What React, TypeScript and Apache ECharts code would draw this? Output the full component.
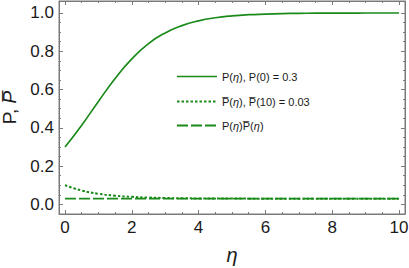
import React, { useEffect, useRef } from "react";
import * as echarts from "echarts";

const etaValues = [0, 0.5, 1, 1.5, 2, 2.5, 3, 3.5, 4, 4.5, 5, 5.5, 6, 6.5, 7, 7.5, 8, 8.5, 9, 9.5, 10];
const pValues = [0.3, 0.414, 0.538, 0.658, 0.76, 0.84, 0.896, 0.934, 0.959, 0.975, 0.985, 0.991, 0.994, 0.9965, 0.998, 0.9988, 0.9993, 0.9996, 0.9997, 0.9998, 0.9999];
const pBarValues = [0.1, 0.0725, 0.0558, 0.0456, 0.0395, 0.0357, 0.0335, 0.0321, 0.0313, 0.0308, 0.0305, 0.0303, 0.0302, 0.0301, 0.0301, 0.03, 0.03, 0.03, 0.03, 0.03, 0.03];
const productValues = [0.03, 0.03, 0.03, 0.03, 0.03, 0.03, 0.03, 0.03, 0.03, 0.03, 0.03, 0.03, 0.03, 0.03, 0.03, 0.03, 0.03, 0.03, 0.03, 0.03, 0.03];
const xMajorTicks = [0, 2, 4, 6, 8, 10];
const xMinorTicks = [0.5, 1, 1.5, 2.5, 3, 3.5, 4.5, 5, 5.5, 6.5, 7, 7.5, 8.5, 9, 9.5];
const yMajorTicks = [0, 0.2, 0.4, 0.6, 0.8, 1.0];
const yMinorTicks = [0.05, 0.1, 0.15, 0.25, 0.3, 0.35, 0.45, 0.5, 0.55, 0.65, 0.7, 0.75, 0.85, 0.9, 0.95];
const seriesNames = ["P(\u03B7), P(0) = 0.3", "P\u0305(\u03B7), P\u0305(10) = 0.03", "P(\u03B7)P\u0305(\u03B7)"];
const legendTexts = [
  "P({i|\u03B7}), P(0) = 0.3",
  "P\u0305({i|\u03B7}), P\u0305(10) = 0.03",
  "P({i|\u03B7})P\u0305({i|\u03B7})",
];

const GREEN = "#1a8a1a";
const FRAME = "#7a7a7a";
const TEXT = "#1a1a1a";
const FONT = "Liberation Sans, Arial, sans-serif";

export default function App() {
  const ref = useRef<HTMLDivElement>(null);
  useEffect(() => {
    if (!ref.current) return;
    const chart = echarts.init(ref.current, undefined, { renderer: "svg" });
    const xBase = { type: "value", min: -0.18, max: 10.18, splitLine: { show: false } };
    const yBase = { type: "value", min: -0.05, max: 1.0625, splitLine: { show: false } };
    const lineStyle = { color: FRAME, width: 1 };
    const mk = (vals: number[]) => vals.map((v, i) => [etaValues[i], v]);
    const dashes = [null, [2.5, 2], [11, 3]];
    const widths = [1.7, 2, 1.8];
    const legendRows = [76.5, 101.5, 125.5];
    const legendGraphics: any[] = [];
    legendRows.forEach((y, i) => {
      legendGraphics.push({
        type: "line",
        shape: { x1: 177, y1: y, x2: 217, y2: y },
        style: { stroke: GREEN, lineWidth: widths[i], lineDash: dashes[i] || undefined },
      });
      legendGraphics.push({
        type: "text",
        x: 222,
        y,
        style: {
          text: legendTexts[i],
          fontSize: 11,
          fontFamily: FONT,
          fill: TEXT,
          verticalAlign: "middle",
          align: "left",
          rich: { i: { fontSize: 11, fontFamily: FONT, fontStyle: "italic", fill: TEXT } },
        },
      });
    });
    const axisCommon = (pos: string, ticks: number[], len: number, showLine: boolean) => ({
      position: pos,
      axisLine: { show: showLine, onZero: false, lineStyle },
      axisTick: { show: true, inside: true, length: len, lineStyle, customValues: ticks },
      axisLabel: { show: false, customValues: ticks },
    });
    chart.setOption({
      animation: false,
      grid: {
        left: 59, right: 4, top: 1, bottom: 54,
        outerBoundsMode: "none", containLabel: false,
        show: true, borderColor: FRAME, borderWidth: 1, backgroundColor: "transparent",
      },
      graphic: legendGraphics,
      xAxis: [
        {
          ...xBase,
          ...axisCommon("bottom", xMajorTicks, 4, true),
          axisLabel: { show: true, customValues: xMajorTicks, fontSize: 17, fontFamily: FONT, color: TEXT, margin: 5 },
          name: "\u03B7",
          nameLocation: "middle",
          nameGap: 31,
          nameTextStyle: { fontSize: 20, fontStyle: "italic", fontFamily: FONT, color: TEXT },
        },
        { ...xBase, ...axisCommon("bottom", xMinorTicks, 2, false) },
        { ...xBase, ...axisCommon("top", xMajorTicks, 4, true) },
        { ...xBase, ...axisCommon("top", xMinorTicks, 2, false) },
      ],
      yAxis: [
        {
          ...yBase,
          ...axisCommon("left", yMajorTicks, 4, true),
          axisLabel: {
            show: true,
            customValues: yMajorTicks,
            fontSize: 17,
            fontFamily: FONT,
            color: TEXT,
            margin: 5,
            formatter: (v: number) => v.toFixed(1),
          },
          name: "{a|P, }{b|P\u0305}",
          nameLocation: "middle",
          nameGap: 37,
          nameTextStyle: {
            fontSize: 19,
            fontFamily: FONT,
            color: TEXT,
            rich: {
              a: { fontSize: 19, fontFamily: FONT, color: TEXT },
              b: { fontSize: 19, fontFamily: FONT, fontStyle: "italic", color: TEXT },
            },
          },
        },
        { ...yBase, ...axisCommon("left", yMinorTicks, 2, false) },
        { ...yBase, ...axisCommon("right", yMajorTicks, 4, true) },
        { ...yBase, ...axisCommon("right", yMinorTicks, 2, false) },
      ],
      series: [
        {
          name: seriesNames[0],
          type: "line",
          smooth: true,
          symbol: "none",
          data: mk(pValues),
          lineStyle: { color: GREEN, width: 1.7 },
          itemStyle: { color: GREEN },
        },
        {
          name: seriesNames[1],
          type: "line",
          smooth: true,
          symbol: "none",
          data: mk(pBarValues),
          lineStyle: { color: GREEN, width: 2, type: [2.5, 2] },
          itemStyle: { color: GREEN },
        },
        {
          name: seriesNames[2],
          type: "line",
          symbol: "none",
          data: mk(productValues),
          lineStyle: { color: GREEN, width: 1.8, type: [11, 3] },
          itemStyle: { color: GREEN },
        },
      ],
    });
    return () => chart.dispose();
  }, []);
  return <div ref={ref} style={{ width: 409, height: 268, position: "absolute", left: 0, top: 0 }} />;
}
